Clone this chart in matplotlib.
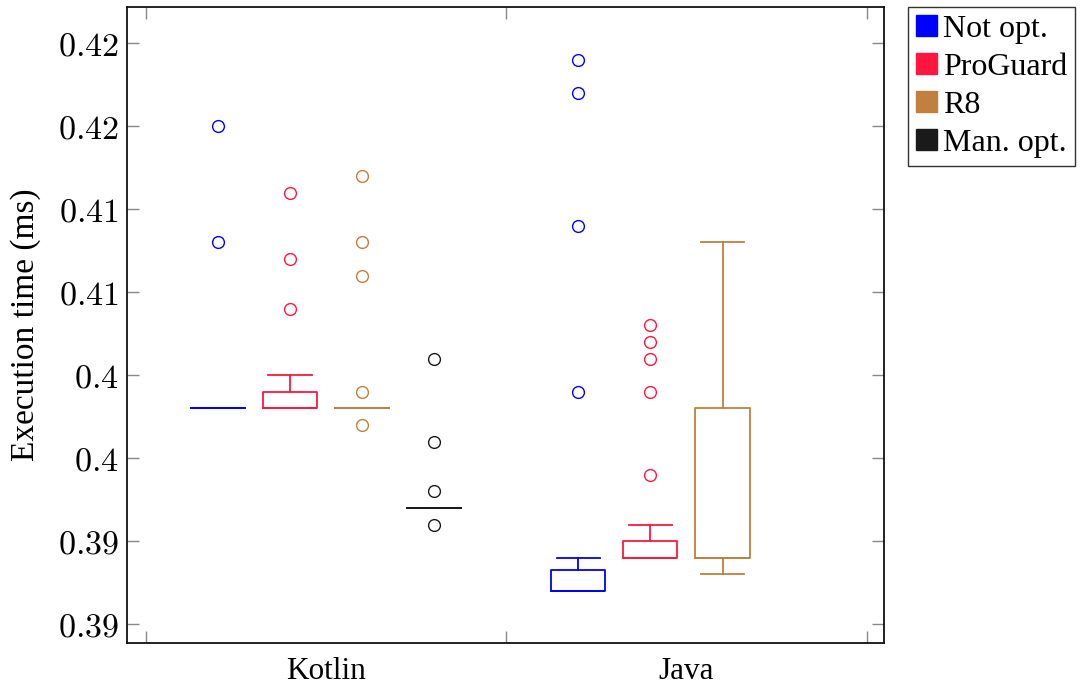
import numpy as np
import matplotlib
matplotlib.use('Agg')
import matplotlib.pyplot as plt
from matplotlib.patches import Patch

plt.rcParams['font.family'] = ['Liberation Serif', 'DejaVu Serif']
plt.rcParams['mathtext.fontset'] = 'cm'

# Groups and series
categories = ['Kotlin', 'Java']
series = ['Not opt.', 'ProGuard', 'R8', 'Man. opt.']
colors = ['#0000FF', '#FF1740', '#BF8040', '#1A1A1A']

# Box statistics per series: [Kotlin, Java] (None = no data)
whislo = [[0.398, 0.387], [0.398, 0.389], [0.398, 0.388], [0.392, None]]
q1 = [[0.398, 0.387], [0.398, 0.389], [0.398, 0.389], [0.392, None]]
med = [[0.398, 0.387], [0.398, 0.389], [0.398, 0.389], [0.392, None]]
q3 = [[0.398, 0.38825], [0.399, 0.390], [0.398, 0.398], [0.392, None]]
whishi = [[0.398, 0.389], [0.400, 0.391], [0.398, 0.408], [0.392, None]]
fliers = [
    [[0.408, 0.415], [0.399, 0.409, 0.417, 0.419]],
    [[0.404, 0.407, 0.411], [0.394, 0.399, 0.401, 0.402, 0.403]],
    [[0.397, 0.399, 0.406, 0.408, 0.412], []],
    [[0.391, 0.393, 0.396, 0.401], None],
]

# y ticks and their (pgfplots-rounded) labels
yticks = [0.385, 0.390, 0.395, 0.400, 0.405, 0.410, 0.415, 0.420]
ytick_labels = ['0.39', '0.39', '0.4', '0.4', '0.41', '0.41', '0.42', '0.42']

offsets = [-0.3, -0.1, 0.1, 0.3]

fig = plt.figure(figsize=(10.82, 6.86), dpi=100)
ax = fig.add_axes([0.1174, 0.0627, 0.8170 - 0.1174, 0.9898 - 0.0627])

for s in range(len(series)):
    stats, pos = [], []
    for c in range(len(categories)):
        if whislo[s][c] is None:
            continue
        stats.append(dict(whislo=whislo[s][c], q1=q1[s][c], med=med[s][c],
                          q3=q3[s][c], whishi=whishi[s][c], fliers=fliers[s][c]))
        pos.append(c + offsets[s])
    col = colors[s]
    ax.bxp(stats, positions=pos, widths=0.15, capwidths=0.12,
           boxprops=dict(color=col, linewidth=1.3),
           whiskerprops=dict(color=col, linewidth=1.3),
           capprops=dict(color=col, linewidth=1.3),
           medianprops=dict(color=col, linewidth=1.3),
           flierprops=dict(marker='o', markerfacecolor='none',
                           markeredgecolor=col, markersize=8.5,
                           markeredgewidth=1.0, linestyle='none'),
           manage_ticks=False)

ax.set_xlim(-0.552, 1.548)
ax.set_ylim(0.383873, 0.422187)

ax.set_yticks(yticks)
ax.set_yticklabels(['$%s$' % t for t in ytick_labels])
ax.set_xticks([0, 1])
ax.set_xticklabels(categories)
ax.set_xticks([-0.5, 0.5, 1.5], minor=True)

ax.tick_params(axis='y', which='major', direction='in', length=8.5, width=1.0,
               color='#888888', left=True, right=True, labelsize=24.5, pad=6)
ax.tick_params(axis='x', which='major', length=0, labelsize=22.5, pad=10)
ax.tick_params(axis='x', which='minor', direction='in', length=8.5, width=1.0,
               color='#888888', top=True, bottom=True)

for sp in ax.spines.values():
    sp.set_linewidth(1.3)
    sp.set_color('#111111')

ax.set_ylabel('Execution time (ms)', fontsize=24, labelpad=12)

handles = [Patch(facecolor=c, edgecolor=c) for c in colors]
leg = fig.legend(handles, series, loc='upper left', bbox_to_anchor=(0.839, 0.99),
                 fontsize=23, frameon=True, fancybox=False, framealpha=1,
                 edgecolor='#333333', handlelength=0.65, handleheight=0.65,
                 handletextpad=0.2, labelspacing=0.28, borderpad=0.25,
                 borderaxespad=0)
leg.get_frame().set_linewidth(1.0)

fig.savefig('out.png', dpi=100)
